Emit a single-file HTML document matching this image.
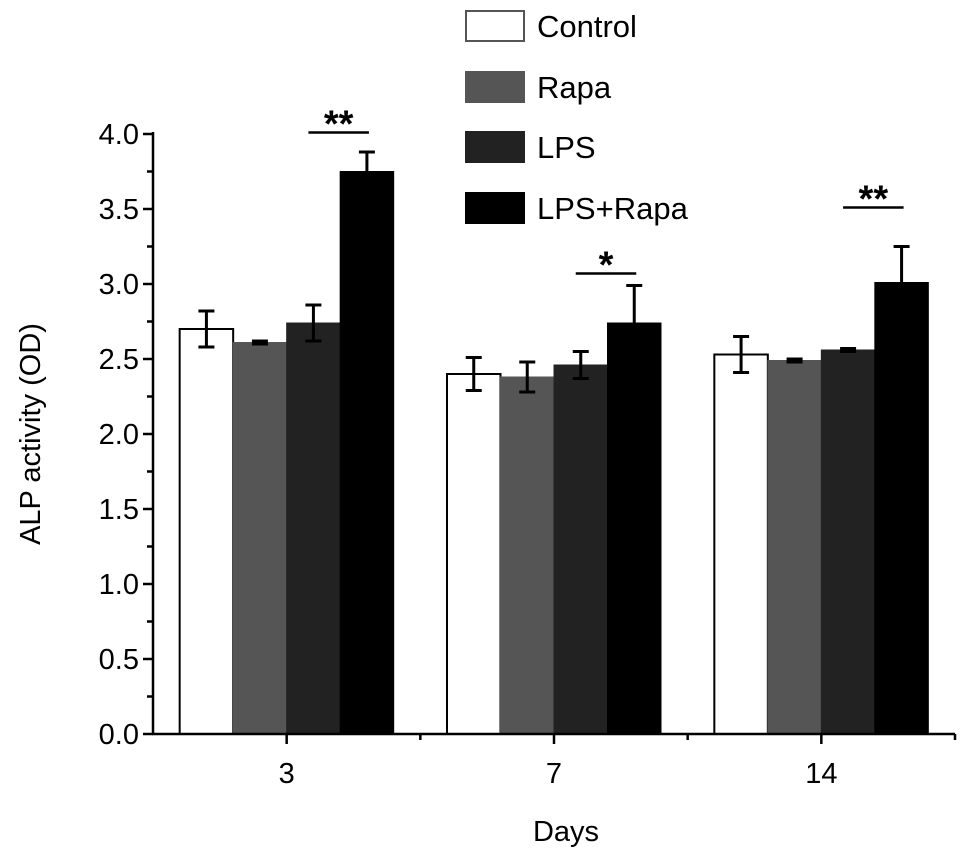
<!DOCTYPE html>
<html><head><meta charset="utf-8"><style>
html,body{margin:0;padding:0;background:#fff;}
svg{display:block;font-family:"Liberation Sans",Arial,sans-serif;}
</style></head><body>
<svg id="chart" width="969" height="862" viewBox="0 0 969 862"></svg>
<script>
const categories = ["3","7","14"];
const seriesNames = ["Control","Rapa","LPS","LPS+Rapa"];
const seriesColors = ["#ffffff","#555555","#222222","#000000"];
const controlVals = [2.70,2.40,2.53];
const rapaVals = [2.61,2.38,2.49];
const lpsVals = [2.74,2.46,2.56];
const lpsRapaVals = [3.75,2.74,3.01];
const controlErr = [0.12,0.11,0.12];
const rapaErr = [0.01,0.10,0.01];
const lpsErr = [0.12,0.09,0.01];
const lpsRapaErr = [0.13,0.25,0.24];
const sigLabels = ["**","*","**"];
const sigLevels = [4.01,3.07,3.51];
const yTicks = [0.0,0.5,1.0,1.5,2.0,2.5,3.0,3.5,4.0];

const NS="http://www.w3.org/2000/svg";
const svg=document.getElementById('chart');
const X0=153, X1=955, Y0=734, Ytop=134, YMAX=4;
const groupW=(X1-X0)/3;
function y(v){return Y0-(v/YMAX)*(Y0-Ytop);}
function gx(i){return X0+groupW*(i+0.5);}
const barW=53.5;
function bx(i,s){return gx(i)-2*barW+s*barW;}
function mk(tag,attrs,parent){const e=document.createElementNS(NS,tag);for(const k in attrs)e.setAttribute(k,attrs[k]);(parent||svg).appendChild(e);return e;}

const vals=[controlVals,rapaVals,lpsVals,lpsRapaVals];
const errs=[controlErr,rapaErr,lpsErr,lpsRapaErr];
for(let s=0;s<4;s++){for(let i=0;i<3;i++){
  const r=mk('rect',{x:bx(i,s),y:y(vals[s][i]),width:barW,height:Y0-y(vals[s][i]),fill:seriesColors[s],stroke:s==0?'#000':seriesColors[s],'stroke-width':s==0?2:1});
  
  
  const cx=bx(i,s)+barW/2, t=y(vals[s][i]+errs[s][i]), b=y(vals[s][i]-errs[s][i]);
  const g=mk('g',{stroke:'#000','stroke-width':3});
  
  
  mk('line',{x1:cx,x2:cx,y1:t,y2:b},g);
  mk('line',{x1:cx-8,x2:cx+8,y1:t,y2:t},g);
  mk('line',{x1:cx-8,x2:cx+8,y1:b,y2:b},g);
}}
for(let i=0;i<3;i++){
  const ly=y(sigLevels[i]);
  const x1=bx(i,2)+barW/2-5, x2=bx(i,3)+barW/2+2;
  const l=mk('line',{x1:x1,x2:x2,y1:ly,y2:ly,stroke:'#000','stroke-width':2.5});
  
  
  const t=mk('text',{x:(x1+x2)/2,y:ly+4,'text-anchor':'middle','font-size':38,'font-weight':'bold'});
  t.textContent=sigLabels[i];
  
  
}
const ax=mk('g',{stroke:'#000','stroke-width':2.5});


mk('line',{x1:X0,x2:X0,y1:Ytop-2,y2:Y0+1},ax);
mk('line',{x1:X0-1,x2:X1,y1:Y0,y2:Y0},ax);
for(let v=0;v<=4.001;v+=0.25){
  const major=Math.abs(v*2-Math.round(v*2))<1e-6;
  mk('line',{x1:X0-(major?10:6),x2:X0,y1:y(v),y2:y(v)},ax);
}
yTicks.forEach(v=>{
  const t=mk('text',{x:X0-14,y:y(v)+10,'text-anchor':'end','font-size':29});
  t.textContent=v.toFixed(1);
  
  
});
for(let i=0;i<3;i++){
  mk('line',{x1:gx(i),x2:gx(i),y1:Y0,y2:Y0+10},ax);
  mk('line',{x1:X0+groupW*(i+1),x2:X0+groupW*(i+1),y1:Y0,y2:Y0+6},ax);
  const t=mk('text',{x:gx(i),y:783,'text-anchor':'middle','font-size':29});
  t.textContent=categories[i];
  
  
}
const xt=mk('text',{x:566,y:841,'text-anchor':'middle','font-size':29});
xt.textContent='Days';


const yt=mk('text',{x:0,y:0,'text-anchor':'middle','font-size':29,transform:'translate(40,434) rotate(-90)'});
yt.textContent='ALP activity (OD)';


const legY=[26,87,147,208];
for(let s=0;s<4;s++){
  const g=mk('g',{});
  
  
  mk('rect',{x:466,y:legY[s]-15,width:58,height:30,fill:seriesColors[s],stroke:s==0?'#555':seriesColors[s],'stroke-width':2},g);
  const t=mk('text',{x:537,y:legY[s]+11,'font-size':31},g);
  t.textContent=seriesNames[s];
}
</script>
</body></html>
